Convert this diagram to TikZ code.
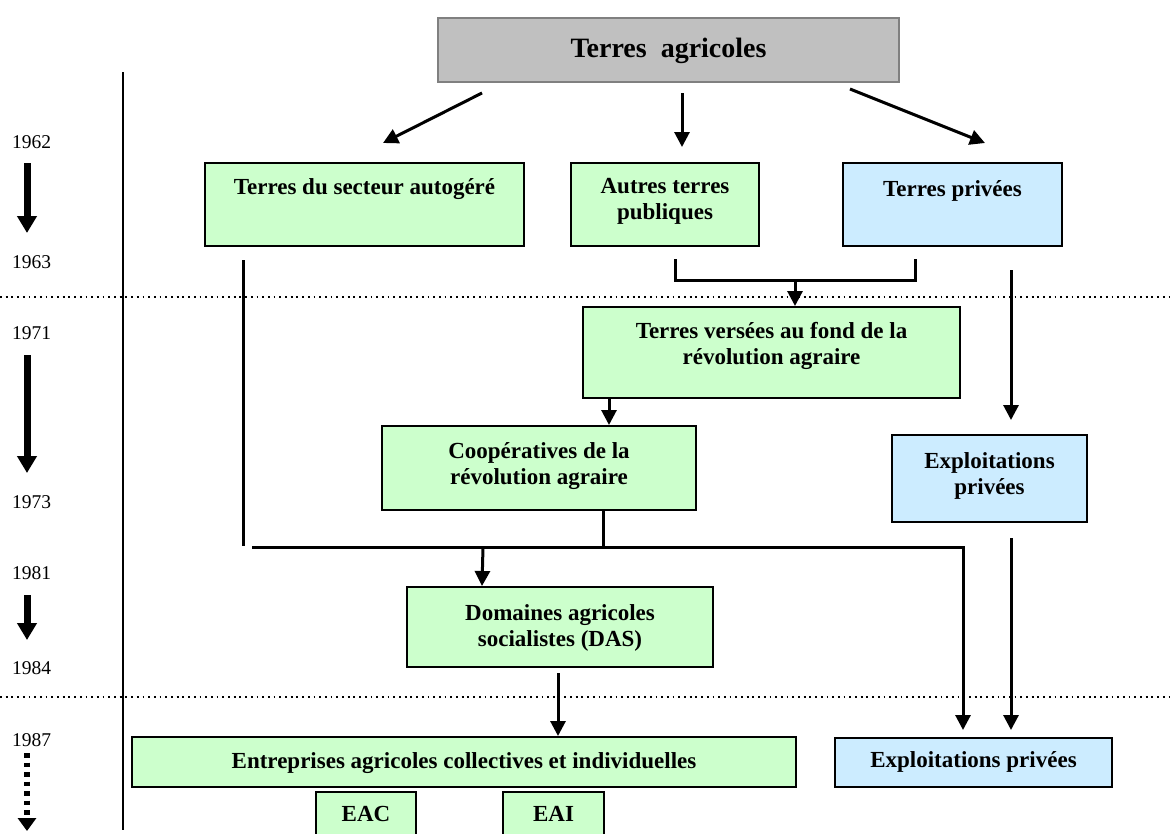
\documentclass[tikz,border=0pt]{standalone}
\usepackage{fontspec}
\setmainfont{Liberation Serif}
\usetikzlibrary{arrows.meta}
\definecolor{landgreen}{HTML}{CCFFCC}
\definecolor{landblue}{HTML}{CCECFF}
\definecolor{landgray}{HTML}{C0C0C0}
\begin{document}
\begin{tikzpicture}[x=1pt,y=-1pt,
  box/.style={draw=black, line width=2pt, inner sep=0pt},
  greenbox/.style={box, fill=landgreen},
  bluebox/.style={box, fill=landblue},
  titlebox/.style={draw=black!50, line width=1.5pt, fill=landgray, inner sep=0pt},
  boxtext/.style={font=\fontsize{23}{26}\selectfont\bfseries, align=center, inner sep=0pt},
  titletext/.style={font=\fontsize{28}{32}\selectfont\bfseries, inner sep=0pt},
  year/.style={font=\fontsize{19.5}{22}\selectfont, anchor=west, inner sep=0pt},
  link/.style={line width=3pt},
  flow/.style={link, -{Triangle[length=15pt,width=15pt]}},
  period/.style={line width=7pt, -{Triangle[length=17pt,width=19pt]}},
  openperiod/.style={line width=6pt, dash pattern=on 4.5pt off 5pt, -{Triangle[length=13pt,width=18pt]}},
  sep/.style={line width=1.6pt, dash pattern=on 1.8pt off 3.9pt},
]
\useasboundingbox (0,0) rectangle (1174,833);

% --- time axis -------------------------------------------------------
\draw[line width=2pt] (123,72) -- (123,830);
\draw[sep] (0,297) -- (1174,297);
\draw[sep] (0,697) -- (1174,697);

\node[year] (y62) at (12,142) {1962};
\node[year] (y63) at (12,262) {1963};
\node[year] (y71) at (12,333) {1971};
\node[year] (y73) at (12,502) {1973};
\node[year] (y81) at (12,573) {1981};
\node[year] (y84) at (12,668) {1984};
\node[year] (y87) at (12,740) {1987};

\coordinate (p1s) at (27,163); \coordinate (p1e) at (27,233);
\coordinate (p2s) at (27,355); \coordinate (p2e) at (27,473);
\coordinate (p3s) at (27,595); \coordinate (p3e) at (27,640);
\coordinate (p4s) at (27,753); \coordinate (p4e) at (27,831);
\draw[period] (p1s) -- (p1e);
\draw[period] (p2s) -- (p2e);
\draw[period] (p3s) -- (p3e);
\draw[openperiod] (p4s) -- (p4e);

% --- boxes -----------------------------------------------------------
\node[titlebox, minimum width=461pt, minimum height=64pt] (top) at (668.5,50) {};
\node[titletext] (ttop) at (668.5,51) {Terres\ \ agricoles};

\node[greenbox, minimum width=319pt, minimum height=83pt] (A) at (364.5,204.5) {};
\node[boxtext] (tA) at (364.5,189) {Terres du secteur autogéré};

\node[greenbox, minimum width=188pt, minimum height=83pt] (B) at (665,204.5) {};
\node[boxtext] (tB) at (665,201) {Autres terres\\publiques};

\node[bluebox, minimum width=219pt, minimum height=83pt] (C) at (952.5,204.5) {};
\node[boxtext] (tC) at (952.5,191) {Terres privées};

\node[greenbox, minimum width=377pt, minimum height=91pt] (D) at (771.5,352.5) {};
\node[boxtext] (tD) at (771.5,346) {Terres versées au fond de la\\révolution agraire};

\node[greenbox, minimum width=314pt, minimum height=84pt] (E) at (539,468) {};
\node[boxtext] (tE) at (539,466) {Coopératives de la\\révolution agraire};

\node[bluebox, minimum width=195pt, minimum height=87pt] (F) at (989.5,478.5) {};
\node[boxtext] (tF) at (989.5,475.5) {Exploitations\\privées};

\node[greenbox, minimum width=306pt, minimum height=80pt] (G) at (560,627) {};
\node[boxtext] (tG) at (560,627.5) {Domaines agricoles\\socialistes (DAS)};

\node[greenbox, minimum width=664pt, minimum height=50pt] (H) at (464,762) {};
\node[boxtext] (tH) at (464,763) {Entreprises agricoles collectives et individuelles};

\node[bluebox, minimum width=277pt, minimum height=49pt] (I) at (973.5,762.5) {};
\node[boxtext] (tI) at (973.5,762) {Exploitations privées};

\node[greenbox, minimum width=100pt, minimum height=53pt] (EAC) at (366,818.5) {};
\node[boxtext] (tEAC) at (366,814) {EAC};

\node[greenbox, minimum width=101pt, minimum height=53pt] (EAI) at (553.5,818.5) {};
\node[boxtext] (tEAI) at (553.5,814) {EAI};

% --- connectors --------------------------------------------------------
\coordinate (s1) at (482,93);  \coordinate (e1) at (383,143);
\coordinate (s2) at (682,93);  \coordinate (e2) at (682,147);
\coordinate (s3) at (850,89);  \coordinate (e3) at (985,143);
\draw[flow] (s1) -- (e1);
\draw[flow] (s2) -- (e2);
\draw[flow] (s3) -- (e3);

% public lands gathered into the agrarian revolution fund
\coordinate (bl) at (675,259); \coordinate (br) at (915,259);
\coordinate (bm) at (795,280);
\draw[link] (bl) -- (bl |- bm) -- (br |- bm) -- (br);
\draw[flow] (bm) -- (D.north -| bm);

\draw[flow] (D.south -| 609,0) -- (E.north -| 609,0);

% private lands
\coordinate (r1) at (1011,270);
\draw[flow] (r1) -- (1011,420);
\coordinate (r2) at (1011,538);
\draw[flow] (r2) -- (1011,730);

% 1981 restructuring
\coordinate (la) at (243,260); \coordinate (lb) at (243,546);
\draw[link] (la) -- (lb);
\coordinate (hj) at (252,547); \coordinate (hk) at (963,547);
\draw[link] (E.south -| 603,0) -- (hk -| 603,0);
\draw[flow] (hj) -- (hk) -- (963,730);
\draw[flow] (483,547) -- (G.north -| 482,0);

\coordinate (g1) at (558,673);
\draw[flow] (g1) -- (H.north -| g1);
\end{tikzpicture}
\end{document}
